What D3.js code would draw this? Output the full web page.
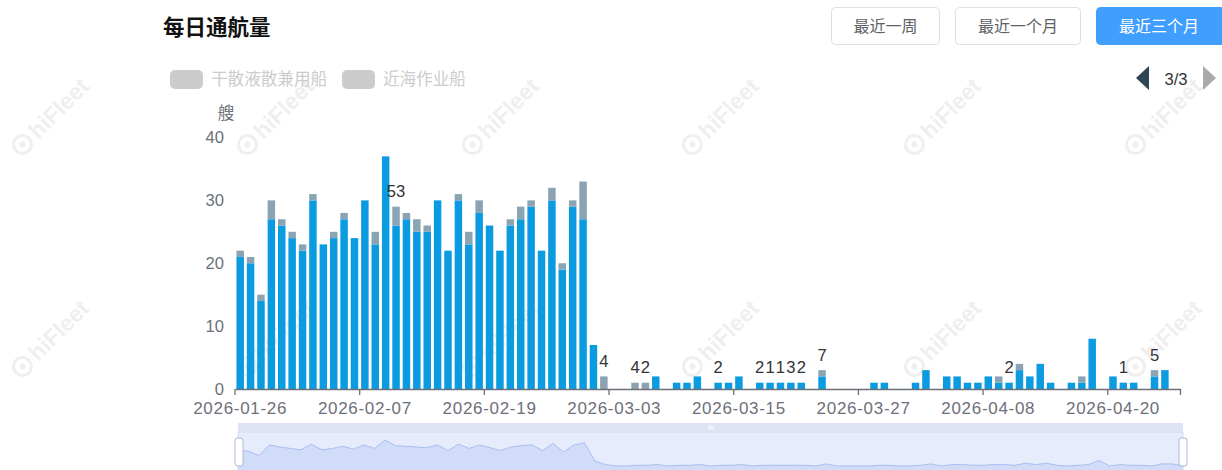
<!DOCTYPE html>
<html><head><meta charset="utf-8">
<script src="https://cdn.jsdelivr.net/npm/d3@7/dist/d3.min.js"></script>
<style>
html,body{margin:0;padding:0;background:#fff;overflow:hidden}
svg{display:block}
</style></head><body>
<svg id="c" width="1222" height="470"></svg>
<script>
// ---------- data ----------
const startDay = "2026-01-26";
const endDay = "2026-04-27"; // exclusive
const seriesBlue = [21,20,14,27,26,24,22,30,23,24, 27,24,30,23,37,26,27,25,25,30, 22,30,23,28,26,22,26,27,29,22,
  30,19,29,27,7,0,0,0,0,0, 2,0,1,1,2,0,1,1,2,0, 1,1,1,1,1,0,2,0,0,0, 0,1,1,0,0,1,3,0,2,2, 1,1,2,1,1,3,2,4,1,0, 1,1,8,0,2,1,1,0,2,3,0];
const seriesGrey = [1,1,1,3,1,1,1,1,0,1, 1,0,0,2,0,3,1,2,1,0, 0,1,2,2,0,0,1,2,1,0,
  2,1,1,6,0,2,0,0,1,1, 0,0,0,0,0,0,0,0,0,0, 0,0,0,0,0,0,1,0,0,0, 0,0,0,0,0,0,0,0,0,0, 0,0,0,1,0,1,0,0,0,0, 0,1,0,0,0,0,0,0,1,0,0];
const labelDays = ["2026-02-10","2026-03-02","2026-03-05","2026-03-06","2026-03-13","2026-03-17","2026-03-18","2026-03-19","2026-03-20","2026-03-21","2026-03-23","2026-04-10","2026-04-21","2026-04-24"];
const labelTexts = ["53","4","4","2","2","2","1","1","3","2","7","2","1","5"];
const xTickLabels = ["2026-01-26","2026-02-07","2026-02-19","2026-03-03","2026-03-15","2026-03-27","2026-04-08","2026-04-20"];
const yTicks = [0,10,20,30,40];
const legendNames = ["干散液散兼用船","近海作业船"];
const buttonNames = ["最近一周","最近一个月","最近三个月"];

const fmt = d3.timeFormat("%Y-%m-%d");
const parse = d3.timeParse("%Y-%m-%d");
const categories = d3.timeDay.range(parse(startDay), parse(endDay)).map(fmt);

const rows = categories.map((d,i)=>({date:d, blue:seriesBlue[i], grey:seriesGrey[i]}));

// ---------- styles ----------
const FONT = '"Liberation Sans","Noto Sans CJK SC",sans-serif';
const CJK = '"Noto Sans CJK SC","Noto Sans",sans-serif';
const svg = d3.select("#c");

// ---------- watermarks ----------
const wmX = [55,280,505,725,947,1168], wmY = [112,334];
const WMC = "#efefef";
const wm = svg.append("g");
wmY.forEach(y=>wmX.forEach(x=>{
  const g = wm.append("g").attr("transform",`translate(${x},${y}) rotate(-45)`);
  g.append("circle").attr("cx",-46).attr("cy",0).attr("r",9).attr("fill","none").attr("stroke",WMC).attr("stroke-width",3);
  g.append("circle").attr("cx",-46).attr("cy",0).attr("r",3).attr("fill",WMC);
  g.append("text").attr("x",-32).attr("y",8).attr("font-family",'"Liberation Sans",Arial,sans-serif')
    .attr("font-weight","bold").attr("font-size",23).attr("fill",WMC).text("hiFleet");
}));

// ---------- title ----------
svg.append("text").attr("x",163).attr("y",35).attr("font-family",CJK).attr("font-weight","bold")
  .attr("font-size",21.5).attr("fill","#111").text("每日通航量");

// ---------- buttons ----------
const btnX = [831,955,1096], btnW = [109,126,130];
buttonNames.forEach((n,i)=>{
  const active = i===2;
  svg.append("rect").attr("x",btnX[i]+0.5).attr("y",7.5).attr("width",btnW[i]-1).attr("height",37).attr("rx",4)
    .attr("fill",active?"#409eff":"#fff").attr("stroke",active?"#409eff":"#dcdfe6");
  svg.append("text").attr("x",btnX[i]+btnW[i]/2 - (active?2:0)).attr("y",31.5).attr("text-anchor","middle")
    .attr("font-family",CJK).attr("font-size",16).attr("fill",active?"#fff":"#606266").text(n);
});

// ---------- legend ----------
const legX = [170,342];
legendNames.forEach((n,i)=>{
  svg.append("rect").attr("x",legX[i]).attr("y",70).attr("width",33).attr("height",19).attr("rx",5).attr("fill","#ccc");
  svg.append("text").attr("x",legX[i]+41).attr("y",85).attr("font-family",CJK).attr("font-size",16.6).attr("fill","#ccc").text(n);
});
// pager
svg.append("path").attr("d","M1149,66 L1149,90 L1136,78 Z").attr("fill","#2f4554");
svg.append("text").attr("x",1176).attr("y",84.5).attr("text-anchor","middle").attr("font-family",FONT).attr("font-size",16.6).attr("fill","#333").text("3/3");
svg.append("path").attr("d","M1203,66 L1203,90 L1216,78 Z").attr("fill","#aaa");

// ---------- scales ----------
const x = d3.scaleBand().domain(categories).range([235,1180.5]).paddingInner(0.28).paddingOuter(0.14);
const y = d3.scaleLinear().domain([0,40]).range([389,137.5]);

// y axis
const yAxis = svg.append("g").attr("transform","translate(235,0)")
  .call(d3.axisLeft(y).tickValues(yTicks).tickSize(0).tickPadding(11));
yAxis.select(".domain").remove();
yAxis.selectAll("text").attr("font-family",FONT).attr("font-size",16.6).attr("fill","#6e7079");
svg.append("text").attr("x",226).attr("y",119).attr("text-anchor","middle").attr("font-family",CJK)
  .attr("font-size",16.6).attr("fill","#6e7079").text("艘");

// bars
const stack = d3.stack().keys(["blue","grey"])(rows);
const colors = {blue:"#0a9be1", grey:"#8ba4b4"};
svg.append("g").selectAll("g").data(stack).join("g").attr("fill",s=>colors[s.key])
  .selectAll("rect").data(s=>s.filter(d=>d[1]>d[0])).join("rect")
  .attr("x",d=>x(d.data.date)).attr("width",x.bandwidth())
  .attr("y",d=>y(d[1])).attr("height",d=>y(d[0])-y(d[1]));

// x axis
const xAxis = svg.append("g").attr("transform","translate(0,389)")
  .call(d3.axisBottom(x).tickValues(xTickLabels).tickSize(0).tickPadding(12.5));
xAxis.select(".domain").attr("stroke","#6e7079").attr("stroke-width",1.3);
xAxis.selectAll("text").attr("font-family",FONT).attr("font-size",17).attr("letter-spacing","0.7px").attr("fill","#6e7079");
const off = x.step()*x.paddingOuter();
const tickPos = xTickLabels.map(d=>x(d)-off).concat([x.range()[1]]);
svg.append("g").selectAll("line").data(tickPos).join("line")
  .attr("x1",d=>d).attr("x2",d=>d).attr("y1",389).attr("y2",395).attr("stroke","#6e7079").attr("stroke-width",1.3);

// value labels
const totalByDay = new Map(rows.map(r=>[r.date,r.blue+r.grey]));
svg.append("g").selectAll("text").data(labelDays).join("text")
  .attr("x",d=>x(d)+x.bandwidth()/2).attr("y",d=>y(totalByDay.get(d))-9.5)
  .attr("text-anchor","middle").attr("font-family",FONT).attr("font-size",16.6).attr("fill","#333")
  .text((d,i)=>labelTexts[i]);

// ---------- data zoom slider ----------
const sx0 = 238, sx1 = 1183;
const sz = svg.append("g");
sz.append("rect").attr("x",sx0).attr("y",432).attr("width",sx1-sx0).attr("height",40).attr("fill","#e6ecfb").attr("stroke","#d2dbee");
sz.append("rect").attr("x",sx0).attr("y",423).attr("width",sx1-sx0).attr("height",9).attr("fill","#dde3f3");
const sxs = d3.scaleLinear().domain([0,categories.length-1]).range([sx0,sx1]);
const sys = d3.scaleLinear().domain([0,37]).range([466,440]);
const totals = rows.map(r=>r.blue+r.grey);
sz.append("path").datum(totals).attr("fill","#d0dcf8")
  .attr("d",d3.area().x((d,i)=>sxs(i)).y0(472).y1(d=>sys(d)));
sz.append("path").datum(totals).attr("fill","none").attr("stroke","#abbef2").attr("stroke-width",1)
  .attr("d",d3.line().x((d,i)=>sxs(i)).y(d=>sys(d)));
[709,711,713].forEach(gx=>sz.append("line").attr("x1",gx).attr("x2",gx).attr("y1",425.5).attr("y2",429.5).attr("stroke","#fff").attr("stroke-width",1));
[sx0-3, sx1-4].forEach(hx=>sz.append("rect").attr("x",hx).attr("y",438).attr("width",8).attr("height",28).attr("rx",2.5)
  .attr("fill","#fff").attr("stroke","#acb8d1").attr("stroke-width",1));
</script>
</body></html>
